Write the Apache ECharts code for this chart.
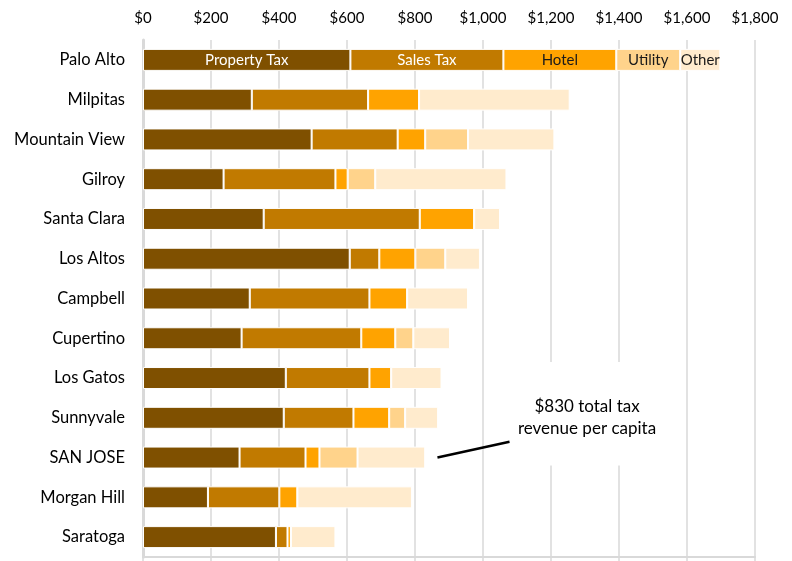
<!DOCTYPE html>
<html>
<head>
<meta charset="utf-8">
<script src="https://cdn.jsdelivr.net/npm/echarts@6/dist/echarts.min.js"></script>
<style>
html,body{margin:0;padding:0;background:#fff;}
#chart{width:792px;height:561px;}
</style>
</head>
<body>
<div id="chart"></div>
<script>
const categories = ['Palo Alto','Milpitas','Mountain View','Gilroy','Santa Clara','Los Altos','Campbell','Cupertino','Los Gatos','Sunnyvale','SAN JOSE','Morgan Hill','Saratoga'];
const propertyTax = [610,320,496,237,355,608,314,290,420,414,284,191,391];
const salesTax    = [450,342,253,329,459,87,352,352,246,205,194,210,34];
const hotelTax    = [332,150,81,36,160,106,111,100,64,105,41,53,10];
const utilityTax  = [188,0,126,81,0,88,0,53,0,47,112,0,0];
const otherTax    = [118,443,254,386,76,102,179,108,148,97,199,337,131];
const seriesNames = ['Property Tax','Sales Tax','Hotel','Utility','Other'];
const tickValues = [0,200,400,600,800,1000,1200,1400,1600,1800];
const annotationLines = ['$830 total tax','revenue per capita'];

const FONT = 'Lato, "DejaVu Sans", sans-serif';
const colors = ['#7F5000','#C17A00','#FFA300','#FFD38B','#FFEBCD'];
const labelColors = ['#ffffff','#ffffff','#1a1a1a','#1a1a1a','#1a1a1a'];
const values = [propertyTax, salesTax, hotelTax, utilityTax, otherTax];

const chart = echarts.init(document.getElementById('chart'), null, {renderer:'canvas'});

const series = seriesNames.map((name, i) => ({
  name: name,
  type: 'bar',
  stack: 'total',
  barWidth: 22,
  xAxisIndex: 0,
  yAxisIndex: 0,
  data: values[i],
  itemStyle: { color: colors[i], borderColor: '#ffffff', borderWidth: 1 },
  label: {
    show: true,
    position: 'inside',
    formatter: p => p.dataIndex === 0 ? p.seriesName : '',
    color: labelColors[i],
    fontFamily: FONT,
    fontSize: 15
  },
  emphasis: { disabled: true },
  animation: false
}));

const option = {
  animation: false,
  grid: { left: 143, right: 37, top: 40, bottom: 4, containLabel: false },
  xAxis: [{
    type: 'value',
    position: 'top',
    min: tickValues[0],
    max: tickValues[tickValues.length-1],
    interval: tickValues[1]-tickValues[0],
    axisLine: { show: false },
    axisTick: { show: false },
    splitLine: { show: true, lineStyle: { color: '#d9d9d9', width: 1.5 } },
    axisLabel: {
      margin: 14,
      color: '#000',
      fontFamily: FONT,
      fontSize: 15,
      formatter: v => '$' + v.toLocaleString('en-US')
    }
  }, {
    type: 'value',
    position: 'bottom',
    min: tickValues[0],
    max: tickValues[tickValues.length-1],
    interval: tickValues[1]-tickValues[0],
    axisLine: { show: true, lineStyle: { color: '#d9d9d9', width: 2 } },
    axisTick: { show: true, length: 5, lineStyle: { color: '#d9d9d9', width: 1.5 } },
    splitLine: { show: false },
    axisLabel: { show: false }
  }],
  yAxis: [{
    type: 'category',
    inverse: true,
    data: categories,
    axisLine: { show: true, lineStyle: { color: '#d9d9d9', width: 3 } },
    axisTick: { show: false },
    axisLabel: { margin: 18, color: '#000', fontFamily: FONT, fontSize: 16.5 }
  }],
  series: series
};
chart.setOption(option);

// annotation built from axis positions
const sjIdx = categories.indexOf('SAN JOSE');
const svIdx = categories.indexOf('Sunnyvale');
const lgIdx = categories.indexOf('Los Gatos');
const toPx = (v, c) => chart.convertToPixel({xAxisIndex:0, yAxisIndex:0}, [v, c]);
const pStart = toPx(866, sjIdx);
const pEndA = toPx(1078, svIdx);
const pEndB = toPx(1078, sjIdx);
const endY = pEndA[1] + 0.6 * (pEndB[1] - pEndA[1]);
const boxL = toPx(1020, lgIdx)[0];
const boxR = toPx(1580, lgIdx)[0];
const boxT = toPx(0, lgIdx)[1] - 16;
const boxB = pEndB[1] + 8;
const textC = toPx(1306, svIdx);

chart.setOption({
  graphic: [
    { type: 'rect', shape: { x: boxL, y: boxT, width: boxR - boxL, height: boxB - boxT }, style: { fill: '#ffffff' }, z: 50 },
    { type: 'line', shape: { x1: pStart[0], y1: pStart[1], x2: pEndA[0], y2: endY }, style: { stroke: '#000', lineWidth: 2.5 }, z: 51 },
    { type: 'text', x: textC[0], y: textC[1], style: { text: annotationLines.join('\n'), fill: '#000', font: '17px ' + FONT, align: 'center', verticalAlign: 'middle', lineHeight: 22 }, z: 52 }
  ]
});
</script>
</body>
</html>
